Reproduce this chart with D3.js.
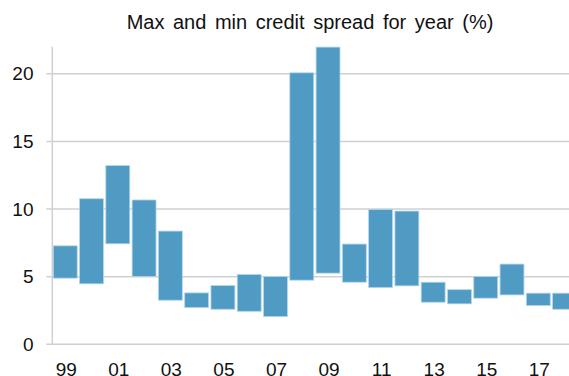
<!DOCTYPE html>
<html><head><meta charset="utf-8">
<script src="https://cdn.jsdelivr.net/npm/d3@7"></script>
<style>
html,body{margin:0;padding:0;background:#fff;overflow:hidden;}
svg{display:block;font-family:Arial,"Liberation Sans",sans-serif;}
</style></head>
<body>
<svg id="chart" width="569" height="376"></svg>
<script>
const years = ["99","00","01","02","03","04","05","06","07","08","09","10","11","12","13","14","15","16","17","18"];
const maxSpread = [7.28,10.76,13.21,10.67,8.37,3.80,4.34,5.16,5.01,20.07,21.97,7.41,9.97,9.85,4.59,4.04,5.01,5.93,3.78,3.78];
const minSpread = [4.89,4.47,7.43,5.01,3.26,2.71,2.59,2.44,2.05,4.74,5.26,4.59,4.19,4.32,3.11,2.99,3.41,3.65,2.86,2.59];
const yTicks = [0,5,10,15,20];
const xTickLabels = ["99","01","03","05","07","09","11","13","15","17"];
const title = "Max and min credit spread for year (%)";

const svg = d3.select("#chart");
const plotLeft = 52.3, plotTop = 46.7, plotBottom = 344.3;
const x = d3.scaleBand().domain(years).range([52.1, 52.1 + 20*26.28]).paddingInner(0.09).paddingOuter(0.045);
const y = d3.scaleLinear().domain([0, 22]).range([plotBottom, plotTop]);

// gridlines
svg.append("g").selectAll("line").data(yTicks).join("line")
  .attr("x1", plotLeft - 6).attr("x2", 569)
  .attr("y1", d => y(d)).attr("y2", d => y(d))
  .attr("stroke", "#d0d0d0").attr("stroke-width", 1.5);

// y axis line
svg.append("line").attr("x1", plotLeft).attr("x2", plotLeft).attr("y1", plotTop).attr("y2", plotBottom)
  .attr("stroke", "#d0d0d0").attr("stroke-width", 1.5);

// bars
svg.append("g").selectAll("rect").data(years).join("rect")
  .attr("x", d => x(d))
  .attr("width", x.bandwidth())
  .attr("y", (d,i) => y(maxSpread[i]))
  .attr("height", (d,i) => y(minSpread[i]) - y(maxSpread[i]))
  .attr("fill", "#4f9bc4")
  .attr("stroke", "#b4d6ea").attr("stroke-width", 0.8);

// y tick labels
svg.append("g").selectAll("text").data(yTicks).join("text")
  .attr("x", 33.5).attr("y", d => y(d)).attr("dy", "0.35em")
  .attr("text-anchor", "end").attr("font-size", 19).attr("fill", "#111")
  .text(d => d);

// x tick labels
svg.append("g").selectAll("text").data(xTickLabels).join("text")
  .attr("x", d => x(d) + x.bandwidth()/2 + 1).attr("y", 375.5)
  .attr("text-anchor", "middle").attr("font-size", 19).attr("fill", "#111")
  .text(d => d);

// title
svg.append("text").attr("x", 310).attr("y", 29.3).attr("text-anchor", "middle")
  .attr("font-size", 20).attr("word-spacing", 3).attr("fill", "#111").text(title);
</script>
</body></html>
